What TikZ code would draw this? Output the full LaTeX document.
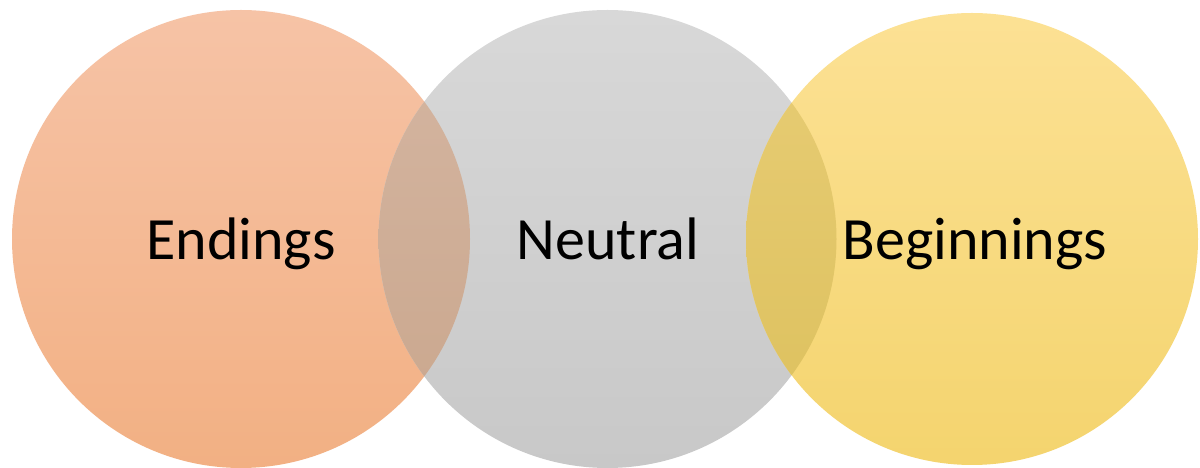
\documentclass[tikz,border=0pt]{standalone}
\usepackage{fontspec}
\setmainfont{Carlito}
\definecolor{orT}{HTML}{F6C3A6}
\definecolor{orB}{HTML}{F2B083}
\definecolor{grT}{HTML}{D8D8D8}
\definecolor{grB}{HTML}{C8C8C8}
\definecolor{yeT}{HTML}{FCE194}
\definecolor{yeB}{HTML}{F4D46E}
\definecolor{ogT}{HTML}{D5B6A2}
\definecolor{ogB}{HTML}{C9A68C}
\definecolor{gyT}{HTML}{E8CD76}
\definecolor{gyB}{HTML}{DCC05C}
\tikzset{
  venn/.style={circle, minimum size=458pt, inner sep=0pt, draw=none},
  lbl/.style={anchor=base, font=\fontsize{60}{70}\selectfont, text=black, inner sep=0pt}
}
\begin{document}
\begin{tikzpicture}[x=1pt,y=1pt]
\useasboundingbox (0,0) rectangle (1200,468);
\fill[white] (0,0) rectangle (1200,468);
\node[venn, top color=orT, bottom color=orB] (E) at (241,229) {};
\node[venn, top color=grT, bottom color=grB] (N) at (607.5,229) {};
\node[venn, minimum size=452pt, top color=yeT, bottom color=yeB] (B) at (972,229) {};
\begin{scope}
  \clip (E.center) circle (229pt);
  \shade[top color=ogT, bottom color=ogB] (N.center) circle (229pt);
\end{scope}
\begin{scope}
  \clip (N.center) circle (229pt);
  \shade[top color=gyT, bottom color=gyB] (B.center) circle (226pt);
\end{scope}
\node[lbl] (tE) at (241,208) {Endings};
\node[lbl] (tN) at (608,208) {Neutral};
\node[lbl] (tB) at (975,208) {Beginnings};
\end{tikzpicture}
\end{document}
